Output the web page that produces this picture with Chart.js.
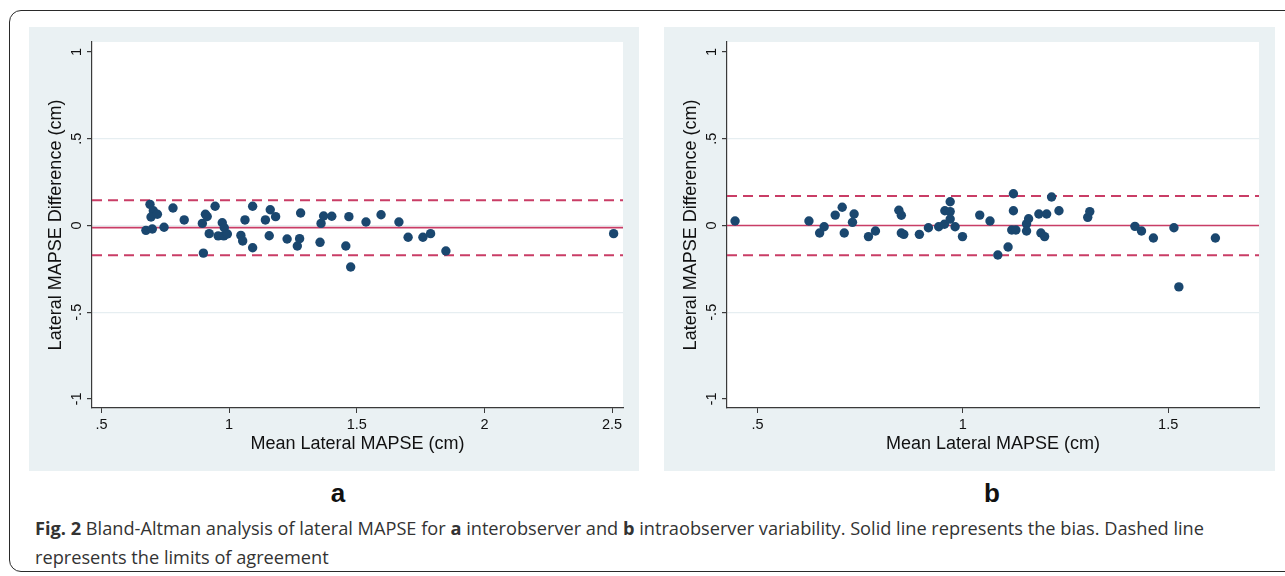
<!DOCTYPE html>
<html>
<head>
<meta charset="utf-8">
<script src="https://cdn.jsdelivr.net/npm/chart.js@4.4.1/dist/chart.umd.min.js"></script>
<style>
  html, body { margin:0; padding:0; background:#fff; width:1285px; height:576px; overflow:hidden; }
  #frame { position:absolute; left:9px; top:10px; width:1320px; height:560px; border:1.5px solid #2a2a2a; border-radius:12px; }
  .panel { position:absolute; top:27px; }
  .lbl { position:absolute; font-family:"Liberation Sans", Arial, sans-serif; font-weight:bold; font-size:26px; color:#111; transform:translate(-50%,-50%); }
  #caption { position:absolute; left:35px; top:514px; font-family:"Open Sans", sans-serif; font-size:18.2px; line-height:29px; color:#333; white-space:nowrap; }
</style>
</head>
<body>
<div id="frame"></div>
<canvas id="ca" class="panel" style="left:29px" width="610" height="444"></canvas>
<canvas id="cb" class="panel" style="left:664px" width="611" height="444"></canvas>
<div class="lbl" style="left:338px; top:493px">a</div>
<div class="lbl" style="left:992px; top:493px">b</div>
<div id="caption"><b>Fig. 2</b> Bland-Altman analysis of lateral MAPSE for <b>a</b> interobserver and <b>b</b> intraobserver variability. Solid line represents the bias. Dashed line<br>represents the limits of agreement</div>
<script>
// ---- data (panel a: interobserver) ----
const aMean = [0.674,0.690,0.703,0.694,0.719,0.699,0.745,0.780,0.824,0.895,0.899,0.907,0.914,0.922,0.945,0.957,0.973,0.981,0.979,0.993,1.046,1.053,1.062,1.092,1.092,1.142,1.161,1.157,1.182,1.227,1.267,1.276,1.280,1.356,1.360,1.370,1.402,1.457,1.469,1.476,1.536,1.595,1.665,1.701,1.759,1.789,1.849,2.506];
const aDiff = [-0.028,0.122,0.085,0.049,0.065,-0.020,-0.010,0.101,0.032,0.012,-0.159,0.065,0.052,-0.047,0.111,-0.060,0.016,-0.013,-0.060,-0.049,-0.057,-0.089,0.032,0.111,-0.128,0.032,0.091,-0.059,0.051,-0.078,-0.118,-0.076,0.072,-0.097,0.012,0.055,0.053,-0.118,0.051,-0.239,0.020,0.062,0.020,-0.068,-0.068,-0.047,-0.147,-0.047];
const aBias = -0.012;
const aLimits = [-0.171, 0.146];
const aXRange = [0.4628, 2.5427];
const aXTicks = [0.5, 1, 1.5, 2, 2.5];
const aXTickLabels = [".5", "1", "1.5", "2", "2.5"];

// ---- data (panel b: intraobserver) ----
const bMean = [0.445,0.625,0.651,0.662,0.689,0.706,0.711,0.731,0.735,0.770,0.787,0.844,0.850,0.850,0.856,0.894,0.916,0.941,0.955,0.956,0.969,0.969,0.969,0.981,0.999,1.041,1.066,1.085,1.110,1.123,1.123,1.119,1.129,1.155,1.160,1.155,1.185,1.190,1.199,1.204,1.216,1.234,1.304,1.309,1.419,1.435,1.464,1.514,1.526,1.615];
const bDiff = [0.026,0.026,-0.043,-0.007,0.060,0.105,-0.043,0.018,0.066,-0.064,-0.032,0.088,0.059,-0.043,-0.051,-0.051,-0.013,-0.007,0.007,0.085,0.137,0.080,0.037,-0.007,-0.064,0.060,0.026,-0.170,-0.124,0.183,0.085,-0.026,-0.026,0.009,0.039,-0.032,0.066,-0.043,-0.064,0.066,0.164,0.085,0.047,0.080,-0.005,-0.032,-0.072,-0.013,-0.354,-0.072];
const bBias = 0.0;
const bLimits = [-0.172, 0.170];
const bXRange = [0.4254, 1.7212];
const bXTicks = [0.5, 1, 1.5];
const bXTickLabels = [".5", "1", "1.5"];

// ---- shared axis ----
const yRange = [-1.0519, 1.0576];
const yTicks = [-1, -0.5, 0, 0.5, 1];
const yTickLabels = ["-1", "-.5", "0", ".5", "1"];
const yGridValues = [-0.5, 0, 0.5];
const xTitle = "Mean Lateral MAPSE (cm)";
const yTitle = "Lateral MAPSE Difference (cm)";

const FONT = '"Liberation Sans", Arial, sans-serif';
const GRAY = '#eaf1f3';
const MARK = '#1a476f';
const LINEC = '#c93d66';
const AXIS = '#3a3a3a';

const bgPlugin = {
  id: 'bg',
  beforeDraw(chart) {
    const {ctx, chartArea: a} = chart;
    ctx.save();
    ctx.fillStyle = GRAY;
    ctx.fillRect(0, 0, chart.width, chart.height);
    ctx.fillStyle = '#ffffff';
    ctx.fillRect(a.left, a.top, a.right - a.left, a.bottom - a.top);
    ctx.restore();
  }
};
const yLabelPlugin = {
  id: 'ylabels',
  afterDraw(chart) {
    const {ctx} = chart;
    const sc = chart.scales.y;
    ctx.save();
    ctx.fillStyle = '#111';
    ctx.font = '14.5px ' + FONT;
    ctx.textAlign = 'center';
    ctx.textBaseline = 'middle';
    yTicks.forEach((v, i) => {
      const py = sc.getPixelForValue(v);
      ctx.save();
      ctx.translate(sc.right - 15, py);
      ctx.rotate(-Math.PI / 2);
      ctx.fillText(yTickLabels[i], 0, 0);
      ctx.restore();
    });
    ctx.restore();
  }
};

function makeChart(id, mean, diff, bias, limits, xRange, xTicks, xTickLabels) {
  const pts = mean.map((m, i) => ({x: m, y: diff[i]}));
  const hline = v => [{x: xRange[0], y: v}, {x: xRange[1], y: v}];
  return new Chart(document.getElementById(id), {
    type: 'scatter',
    data: {
      datasets: [
        {data: pts, backgroundColor: MARK, borderWidth: 0, pointRadius: 4.7, order: 1},
        {data: hline(bias), showLine: true, borderColor: LINEC, borderWidth: 1.6, pointRadius: 0, order: 2},
        {data: hline(limits[1]), showLine: true, borderColor: LINEC, borderWidth: 2, borderDash: [10, 6], pointRadius: 0, order: 2},
        {data: hline(limits[0]), showLine: true, borderColor: LINEC, borderWidth: 2, borderDash: [10, 6], pointRadius: 0, order: 2}
      ]
    },
    options: {
      responsive: false,
      animation: false,
      layout: {padding: {top: 15, right: 16, left: 0, bottom: 0}},
      plugins: {legend: {display: false}, tooltip: {enabled: false}},
      scales: {
        x: {
          type: 'linear', min: xRange[0], max: xRange[1],
          afterBuildTicks: s => { s.ticks = xTicks.map(v => ({value: v})); },
          afterFit: s => { s.height = 63; },
          border: {display: true, color: AXIS, width: 1.2},
          grid: {drawOnChartArea: false, drawTicks: true, tickLength: 5, tickColor: AXIS},
          ticks: {
            color: '#111', font: {family: FONT, size: 14.5}, padding: 3, maxRotation: 0,
            callback: v => { const i = xTicks.indexOf(v); return i >= 0 ? xTickLabels[i] : ''; }
          },
          title: {display: true, text: xTitle, color: '#111', font: {family: FONT, size: 18}, padding: {top: 0, bottom: 16}}
        },
        y: {
          type: 'linear', min: yRange[0], max: yRange[1],
          afterBuildTicks: s => { s.ticks = yTicks.map(v => ({value: v})); },
          afterFit: s => { s.width = 63; },
          border: {display: true, color: AXIS, width: 1.2},
          grid: {
            drawTicks: true, tickLength: 5, tickColor: AXIS,
            color: c => (c.tick && yGridValues.includes(c.tick.value)) ? '#e6eef1' : 'rgba(0,0,0,0)',
            lineWidth: 1.2
          },
          ticks: {display: false},
          title: {display: true, text: yTitle, color: '#111', font: {family: FONT, size: 18}, padding: {top: 16, bottom: 0}}
        }
      }
    },
    plugins: [bgPlugin, yLabelPlugin]
  });
}

makeChart('ca', aMean, aDiff, aBias, aLimits, aXRange, aXTicks, aXTickLabels);
makeChart('cb', bMean, bDiff, bBias, bLimits, bXRange, bXTicks, bXTickLabels);
</script>
</body>
</html>
